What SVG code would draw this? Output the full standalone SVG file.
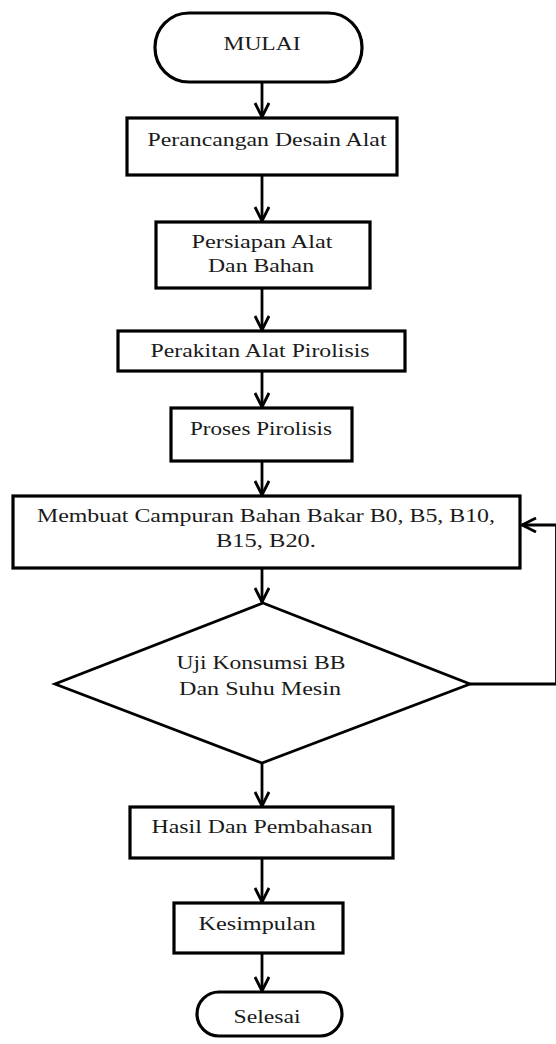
<svg xmlns="http://www.w3.org/2000/svg" width="556" height="1044" viewBox="0 0 556 1044">
<style>
.s{fill:#fff;stroke:#000;stroke-width:3.2}
.d{fill:#fff;stroke:#000;stroke-width:2.8}
.t{font-family:"Liberation Serif","Times New Roman",serif;font-size:19px;fill:#1a1a1a;text-anchor:middle}
.c{fill:none;stroke:#000;stroke-width:2.8}
</style>
<defs>
<marker id="a" viewBox="0 0 16 16" refX="15" refY="8" markerWidth="16" markerHeight="16" markerUnits="userSpaceOnUse" orient="auto">
<path d="M1,1 L15,8 L1,15" fill="none" stroke="#000" stroke-width="2.8"/>
</marker>
</defs>
<rect width="556" height="1044" fill="#fff"/>
<g id="connectors">
<line class="c" x1="262" y1="82" x2="262" y2="117" marker-end="url(#a)"/>
<line class="c" x1="262" y1="175" x2="262" y2="221" marker-end="url(#a)"/>
<line class="c" x1="262" y1="288" x2="262" y2="330" marker-end="url(#a)"/>
<line class="c" x1="262" y1="371" x2="262" y2="407" marker-end="url(#a)"/>
<line class="c" x1="262" y1="461" x2="262" y2="495" marker-end="url(#a)"/>
<line class="c" x1="262" y1="568" x2="262" y2="602" marker-end="url(#a)"/>
<line class="c" x1="262" y1="763" x2="262" y2="806" marker-end="url(#a)"/>
<line class="c" x1="262" y1="858" x2="262" y2="902" marker-end="url(#a)"/>
<line class="c" x1="262" y1="953" x2="262" y2="991" marker-end="url(#a)"/>
<polyline class="c" points="470,684 556.5,684"/>
<line class="c" x1="556.5" y1="684" x2="556.5" y2="525"/>
<polyline class="c" points="556.5,525 522,525" marker-end="url(#a)"/>
</g>
<g id="mulai">
<rect class="s" x="155" y="13" width="207" height="69" rx="34" ry="34"/>
<text class="t" x="262" y="50" font-size="21" textLength="77" lengthAdjust="spacingAndGlyphs">MULAI</text>
</g>
<g id="perancangan">
<rect class="s" x="127" y="118" width="270" height="57"/>
<text class="t" x="267" y="146" textLength="239" lengthAdjust="spacingAndGlyphs">Perancangan Desain Alat</text>
</g>
<g id="persiapan">
<rect class="s" x="156" y="222" width="214" height="66"/>
<text class="t" x="262" y="248" textLength="141" lengthAdjust="spacingAndGlyphs">Persiapan Alat</text>
<text class="t" x="261" y="272" textLength="106" lengthAdjust="spacingAndGlyphs">Dan Bahan</text>
</g>
<g id="perakitan">
<rect class="s" x="118" y="331" width="287" height="40"/>
<text class="t" x="260" y="357" textLength="219" lengthAdjust="spacingAndGlyphs">Perakitan Alat Pirolisis</text>
</g>
<g id="proses">
<rect class="s" x="171" y="408" width="181" height="53"/>
<text class="t" x="261" y="435" textLength="142" lengthAdjust="spacingAndGlyphs">Proses Pirolisis</text>
</g>
<g id="campuran">
<rect class="s" x="13" y="496" width="507" height="72"/>
<text class="t" x="266" y="522" textLength="458" lengthAdjust="spacingAndGlyphs">Membuat Campuran Bahan Bakar B0, B5, B10,</text>
<text class="t" x="266" y="547" textLength="100" lengthAdjust="spacingAndGlyphs">B15, B20.</text>
</g>
<g id="uji">
<polygon class="d" points="263,603 470,684 262,763 55,684"/>
<text class="t" x="261" y="669" textLength="169" lengthAdjust="spacingAndGlyphs">Uji Konsumsi BB</text>
<text class="t" x="260" y="695" textLength="162" lengthAdjust="spacingAndGlyphs">Dan Suhu Mesin</text>
</g>
<g id="hasil">
<rect class="s" x="130" y="807" width="263" height="51"/>
<text class="t" x="262" y="833" textLength="221" lengthAdjust="spacingAndGlyphs">Hasil Dan Pembahasan</text>
</g>
<g id="kesimpulan">
<rect class="s" x="174" y="903" width="169" height="50"/>
<text class="t" x="257" y="930" textLength="117" lengthAdjust="spacingAndGlyphs">Kesimpulan</text>
</g>
<g id="selesai">
<rect class="s" x="197" y="992" width="145" height="44" rx="22" ry="22"/>
<text class="t" x="267" y="1023" textLength="67" lengthAdjust="spacingAndGlyphs">Selesai</text>
</g>
</svg>
